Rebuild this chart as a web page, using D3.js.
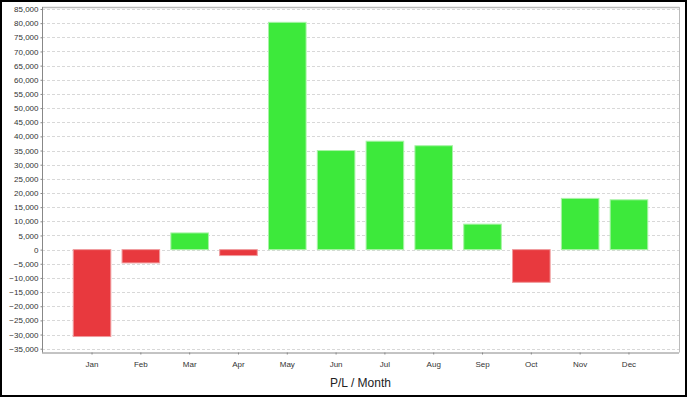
<!DOCTYPE html>
<html><head><meta charset="utf-8">
<script src="https://cdn.jsdelivr.net/npm/d3@7/dist/d3.min.js"></script>
<style>body{margin:0;background:#fff}svg{display:block}text{font-family:"Liberation Sans",Arial,sans-serif}</style>
</head><body>
<script>
const months = ["Jan","Feb","Mar","Apr","May","Jun","Jul","Aug","Sep","Oct","Nov","Dec"];
const values = [-30700,-4700,5900,-2100,80300,35000,38300,36700,9000,-11550,18100,17600];
const yTicks = d3.range(-35000, 85001, 5000);
const xTitle = "P/L / Month";

const W = 688, H = 398;
const svg = d3.select("body").append("svg").attr("width", W).attr("height", H);
svg.append("rect").attr("x",1).attr("y",1).attr("width",685).attr("height",395)
  .attr("fill","#fff").attr("stroke","#000").attr("stroke-width",2);

const L = 42, R = 679, T = 7, B = 352.5;
const y = d3.scaleLinear().domain([-35000, 85000]).range([348.7, 9]);
const x = d3.scaleBand().domain(months).range([L, R]).paddingInner(0.23).paddingOuter(0.64);

// grid
svg.append("g").selectAll("line").data(yTicks).join("line")
  .attr("x1", L).attr("x2", R)
  .attr("y1", d => Math.round(y(d)) + 0.5).attr("y2", d => Math.round(y(d)) + 0.5)
  .attr("stroke", "#d8d8d8").attr("stroke-dasharray", "3,2");

// plot border top/right
svg.append("line").attr("x1",L).attr("x2",R+0.5).attr("y1",T+0.5).attr("y2",T+0.5).attr("stroke","#bbb").attr("stroke-width",1.5);
svg.append("line").attr("x1",R+0.5).attr("x2",R+0.5).attr("y1",T).attr("y2",B).attr("stroke","#bbb");

// bars
svg.append("g").selectAll("rect").data(values).join("rect")
  .attr("x", (d,i) => x(months[i]))
  .attr("width", x.bandwidth())
  .attr("y", d => y(Math.max(0,d)))
  .attr("height", d => Math.abs(y(d) - y(0)))
  .attr("fill", d => d < 0 ? "#e8393e" : "#3de93b")
  .attr("stroke", d => d < 0 ? "#f09a9c" : "#a8f3a6")
  .attr("stroke-width", 1);

// y axis
const ya = svg.append("g").attr("transform", `translate(${L+0.5},0)`)
  .call(d3.axisLeft(y).tickValues(yTicks).tickSize(2).tickSizeOuter(0)
    .tickFormat(d => d3.format(",")(d)));
ya.select(".domain").attr("stroke","#888").attr("d", `M0,${T}V${B}`);
ya.selectAll(".tick line").attr("stroke","#888");
ya.selectAll("text").attr("font-size", 8).attr("fill","#333").attr("x",-4);

// x axis
const xa = svg.append("g").attr("transform", `translate(0,${B})`)
  .call(d3.axisBottom(x).tickSize(2).tickSizeOuter(0));
xa.select(".domain").attr("stroke","#888").attr("d", `M${L},0.5H${R}`);
xa.selectAll(".tick line").attr("stroke","#888");
xa.selectAll("text").attr("font-size", 8).attr("fill","#333").attr("y", 9);

svg.append("text").attr("x", (L+R)/2).attr("y", 387).attr("text-anchor","middle")
  .attr("font-size", 12).attr("fill","#222").text(xTitle);
</script>
</body></html>
